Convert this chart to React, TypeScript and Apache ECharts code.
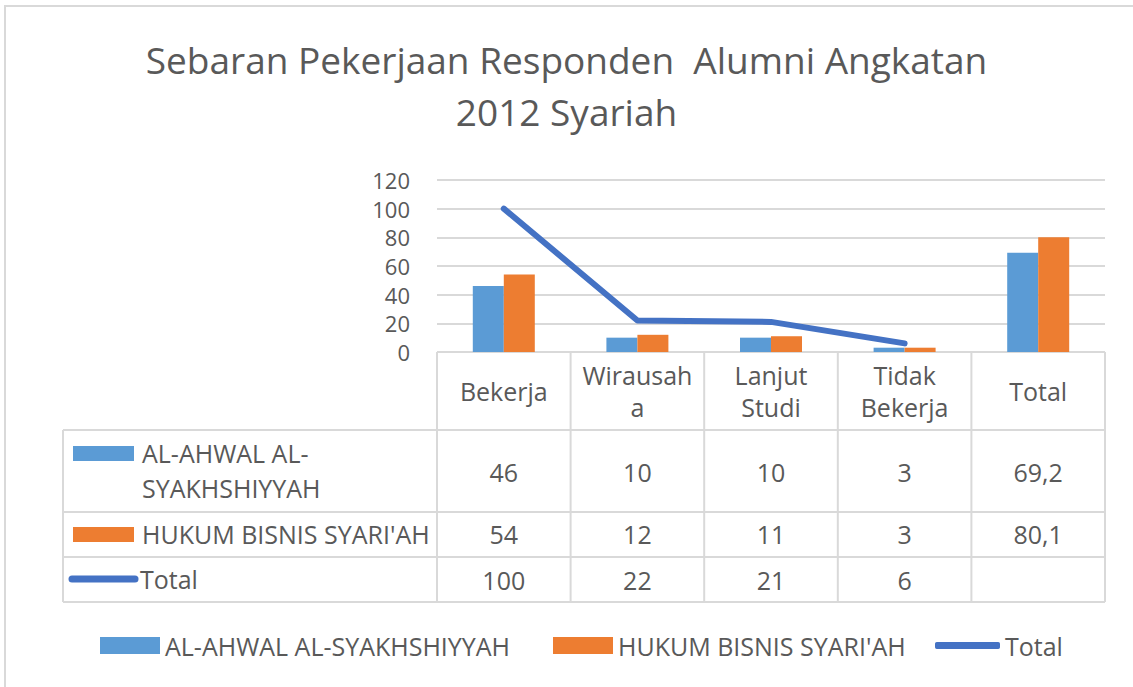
import React, { useEffect, useRef } from 'react';
import * as echarts from 'echarts';

const titleLines = ['Sebaran Pekerjaan Responden  Alumni Angkatan', '2012 Syariah'];
const categories = ['Bekerja', 'Wirausah\na', 'Lanjut\nStudi', 'Tidak\nBekerja', 'Total'];
const seriesNames = ['AL-AHWAL AL-SYAKHSHIYYAH', "HUKUM BISNIS SYARI'AH", 'Total'];
const alAhwal: (number | null)[] = [46, 10, 10, 3, 69.2];
const hukum: (number | null)[] = [54, 12, 11, 3, 80.1];
const total: (number | null)[] = [100, 22, 21, 6, null];
const yMin = 0;
const yMax = 120;
const yInterval = 20;

const BLUE = '#5B9BD5';
const ORANGE = '#ED7D31';
const LINE = '#4472C4';
const TEXT = '#595959';
const GRID = '#d9d9d9';
const FONT = 'Open Sans';
const TABLE_FS = 25;

const fmt = (v: number | null) => (v == null ? '' : String(v).replace('.', ','));

export default function App() {
  const ref = useRef<HTMLDivElement>(null);
  useEffect(() => {
    const chart = echarts.init(ref.current!, null, { renderer: 'svg' });
    const legendText = { fontFamily: FONT, fontSize: 25, color: TEXT };
    chart.setOption({
      animation: false,
      backgroundColor: '#ffffff',
      title: {
        text: titleLines.join('\n'),
        left: 'center',
        top: 28,
        padding: [5, 5, 5, 25],
        textStyle: { fontFamily: FONT, fontSize: 37, fontWeight: 'normal', color: TEXT, lineHeight: 52 },
      },
      legend: [
        { data: [seriesNames[0]], left: 95, top: 628, itemWidth: 60, itemHeight: 17, icon: 'rect', textStyle: legendText },
        { data: [seriesNames[1]], left: 548, top: 628, itemWidth: 60, itemHeight: 17, icon: 'rect', textStyle: legendText },
        { data: [seriesNames[2]], left: 930, top: 628, itemWidth: 65, itemHeight: 7, icon: 'roundRect', textStyle: legendText },
      ],
      grid: { left: 437, right: 28, top: 180, bottom: 335 },
      xAxis: {
        type: 'category',
        data: categories,
        axisLine: { show: false },
        axisTick: { show: false },
        axisLabel: { margin: 39, verticalAlign: 'middle', fontSize: TABLE_FS, lineHeight: 32, color: TEXT, fontFamily: FONT, interval: 0 },
      },
      yAxis: {
        type: 'value',
        min: yMin,
        max: yMax,
        interval: yInterval,
        axisLine: { show: false },
        axisTick: { show: false },
        axisLabel: { margin: 27, fontSize: 22, color: TEXT, fontFamily: FONT },
        splitLine: { lineStyle: { color: GRID, width: 2 } },
      },
      series: [
        { type: 'bar', name: seriesNames[0], data: alAhwal, barWidth: 31, barGap: '0%', itemStyle: { color: BLUE } },
        { type: 'bar', name: seriesNames[1], data: hukum, barWidth: 31, barGap: '0%', itemStyle: { color: ORANGE } },
        {
          type: 'line',
          name: seriesNames[2],
          data: total,
          symbol: 'none',
          lineStyle: { color: LINE, width: 6, cap: 'round', join: 'round' },
          itemStyle: { color: LINE },
        },
      ],
    });

    const xs = categories.map((_, i) => chart.convertToPixel({ xAxisIndex: 0 }, i) as number);
    const bw = xs[1] - xs[0];
    const edges = [xs[0] - bw / 2, ...xs.map((x) => x + bw / 2)];
    const y0 = chart.convertToPixel({ yAxisIndex: 0 }, 0) as number;
    const rowBounds = [y0, 430, 512, 557, 602];
    const tableLeft = 63;
    const rightEdge = edges[edges.length - 1];
    const lineStyle = { stroke: GRID, lineWidth: 2 };
    const g: any[] = [];
    g.push({ type: 'rect', shape: { x: 5, y: 6, width: 1300, height: 900 }, style: { fill: 'none', stroke: GRID, lineWidth: 2 }, silent: true });
    g.push({ type: 'line', shape: { x1: edges[0], y1: y0, x2: rightEdge, y2: y0 }, style: lineStyle });
    for (let r = 1; r < rowBounds.length; r++) {
      g.push({ type: 'line', shape: { x1: tableLeft, y1: rowBounds[r], x2: rightEdge, y2: rowBounds[r] }, style: lineStyle });
    }
    edges.forEach((ex) => {
      g.push({ type: 'line', shape: { x1: ex, y1: y0, x2: ex, y2: rowBounds[4] }, style: lineStyle });
    });
    g.push({ type: 'line', shape: { x1: tableLeft, y1: rowBounds[1], x2: tableLeft, y2: rowBounds[4] }, style: lineStyle });

    const rows = [alAhwal, hukum, total];
    const rowCenters = [472, 534, 580];
    rows.forEach((vals, r) => {
      vals.forEach((v, i) => {
        if (v == null) return;
        g.push({
          type: 'text',
          style: { text: fmt(v), x: xs[i], y: rowCenters[r], align: 'center', verticalAlign: 'middle', fontSize: TABLE_FS, fontFamily: FONT, fill: TEXT },
        });
      });
    });
    // row headers
    g.push({ type: 'rect', shape: { x: 73, y: 446, width: 61, height: 15 }, style: { fill: BLUE } });
    g.push({ type: 'rect', shape: { x: 73, y: 527, width: 61, height: 15 }, style: { fill: ORANGE } });
    g.push({ type: 'line', shape: { x1: 72, y1: 579, x2: 135, y2: 579 }, style: { stroke: LINE, lineWidth: 7, lineCap: 'round' } });
    const rowLabel0 = seriesNames[0].replace(' AL-', ' AL-\n');
    g.push({ type: 'text', style: { text: rowLabel0, x: 142, y: 470, align: 'left', verticalAlign: 'middle', fontSize: TABLE_FS, lineHeight: 35, fontFamily: FONT, fill: TEXT } });
    g.push({ type: 'text', style: { text: seriesNames[1], x: 142, y: 534, align: 'left', verticalAlign: 'middle', fontSize: TABLE_FS, fontFamily: FONT, fill: TEXT } });
    g.push({ type: 'text', style: { text: seriesNames[2], x: 140, y: 579, align: 'left', verticalAlign: 'middle', fontSize: TABLE_FS, fontFamily: FONT, fill: TEXT } });

    chart.setOption({ graphic: g });
    return () => chart.dispose();
  }, []);
  return <div ref={ref} style={{ position: 'fixed', left: 0, top: 0, width: 1133, height: 687, background: '#fff' }} />;
}
